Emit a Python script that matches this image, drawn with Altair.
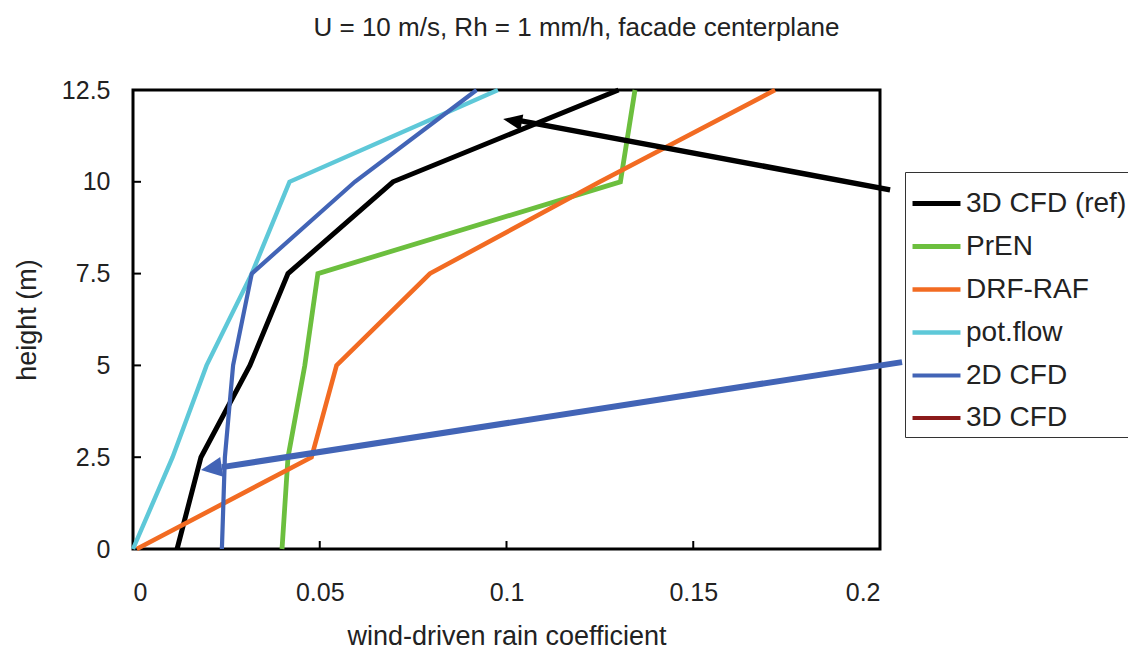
import math
import altair as alt
import pandas as pd

# Wind-driven rain coefficient profiles along the facade centerplane
heights = [0, 2.5, 5, 7.5, 10, 12.5]
cfd3d_ref = [0.0118, 0.0182, 0.0313, 0.0415, 0.0696, 0.1300]
pren = [0.0399, 0.0415, 0.0460, 0.0495, 0.1305, 0.1344]
drf_raf = [0.0010, 0.0478, 0.0545, 0.0795, 0.1250, 0.1719]
pot_flow = [0.0000, 0.0106, 0.0197, 0.0318, 0.0419, 0.0977]
cfd2d = [0.0238, 0.0246, 0.0268, 0.0318, 0.0594, 0.0920]

series_names = ["3D CFD (ref)", "PrEN", "DRF-RAF", "pot.flow", "2D CFD", "3D CFD"]
series_colors = ["#000000", "#6cbf3e", "#f26b22", "#5ec8d8", "#4264b6", "#8b1a1a"]
series_widths = [5, 4, 4, 4, 4, 2]

x_ticks = [0, 0.05, 0.1, 0.15, 0.2]
y_ticks = [0, 2.5, 5, 7.5, 10, 12.5]

# Annotation arrows: tail, end of shaft, tip (coefficient, height)
arrow_black = [(0.2027, 9.78), (0.1039, 11.66), (0.0991, 11.71)]
arrow_blue = [(0.2059, 5.09), (0.0238, 2.23), (0.0182, 2.15)]

W, H = 747, 459
X_MAX, Y_MAX = 0.2, 12.5

rows = []
for name, vals in zip(series_names[:5], [cfd3d_ref, pren, drf_raf, pot_flow, cfd2d]):
    for h, v in zip(heights, vals):
        rows.append({"series": name, "coef": v, "height": h})
df = pd.DataFrame(rows)

x_scale = alt.Scale(domain=[0, X_MAX], nice=False, zero=True)
y_scale = alt.Scale(domain=[0, Y_MAX], nice=False)

x_axis = alt.Axis(values=x_ticks, format=".4~g", title="wind-driven rain coefficient",
                  tickSize=0, domain=False, grid=False, labelPadding=31,
                  titleY=95, titleBaseline="alphabetic", titleX=W / 2)
y_axis = alt.Axis(values=y_ticks, format=".4~g", title="height (m)",
                  tickSize=0, domain=False, grid=False, labelPadding=23,
                  titleAngle=270, titleX=-106, titleY=H / 2,
                  titleBaseline="middle", titleAlign="center")

legend = alt.Legend(
    title=None, orient="none", legendX=772, legendY=82,
    symbolType="stroke", symbolSize=2300,
    labelFontSize=28, labelFont="Liberation Sans", labelColor="#222222",
    labelOffset=3, labelLimit=400, rowPadding=2, padding=5,
    strokeColor="#333333", fillColor="white",
)

lines = alt.Chart(df).mark_line(clip=False, strokeCap="butt", strokeJoin="miter").encode(
    x=alt.X("coef:Q", scale=x_scale, axis=x_axis),
    y=alt.Y("height:Q", scale=y_scale, axis=y_axis),
    color=alt.Color("series:N", scale=alt.Scale(domain=series_names, range=series_colors),
                    legend=legend),
    strokeWidth=alt.StrokeWidth("series:N",
                                scale=alt.Scale(domain=series_names, range=series_widths),
                                legend=legend),
    order=alt.Order("height:Q"),
)

x_tick_df = pd.DataFrame({"coef": x_ticks[1:-1]})
y_tick_df = pd.DataFrame({"height": y_ticks[1:-1]})
x_tick_marks = alt.Chart(x_tick_df).mark_rule(color="#000", strokeWidth=2).encode(
    x=alt.X("coef:Q", scale=x_scale, axis=x_axis), y=alt.value(H), y2=alt.value(H - 8))
y_tick_marks = alt.Chart(y_tick_df).mark_rule(color="#000", strokeWidth=2).encode(
    y=alt.Y("height:Q", scale=y_scale, axis=y_axis), x=alt.value(0), x2=alt.value(8))


def arrow_layers(points, color, width, head_path):
    (tx, ty), (bx, by), (px, py) = points
    shaft = pd.DataFrame({"coef": [tx, bx], "height": [ty, by], "k": [0, 1]})
    sx = W / X_MAX
    sy = H / Y_MAX
    dx = (px - tx) * sx
    dy = -(py - ty) * sy
    ang = math.degrees(math.atan2(-dy, -dx)) % 360
    line = alt.Chart(shaft).mark_line(color=color, strokeWidth=width, clip=False,
                                      strokeCap="butt").encode(
        x=alt.X("coef:Q", scale=x_scale, axis=x_axis),
        y=alt.Y("height:Q", scale=y_scale, axis=y_axis),
        order="k:Q")
    head = alt.Chart(pd.DataFrame({"coef": [px], "height": [py]})).mark_point(
        shape=head_path, filled=True, fill=color, color=color, opacity=1,
        size=400, angle=ang, strokeWidth=0, clip=False).encode(
        x=alt.X("coef:Q", scale=x_scale, axis=x_axis),
        y=alt.Y("height:Q", scale=y_scale, axis=y_axis))
    return [line, head]


layers = [lines, x_tick_marks, y_tick_marks]
layers += arrow_layers(arrow_black, "#000000", 5.5, "M0,0L1.9,-0.8L1.9,0.8Z")
layers += arrow_layers(arrow_blue, "#4264b6", 6, "M0,0L2.1,-1L2.1,1Z")

chart = alt.layer(*layers).properties(
    width=W, height=H,
    background="white",
    title=alt.TitleParams("U = 10 m/s, Rh = 1 mm/h, facade centerplane",
                          fontSize=26, fontWeight="normal", font="Liberation Sans",
                          color="#222222", anchor="middle", frame="group",
                          dx=70, offset=16, baseline="alphabetic"),
    autosize=alt.AutoSizeParams(type="none"),
    padding={"left": 133, "top": 90, "right": 248, "bottom": 104},
).configure_view(
    stroke="#000000", strokeWidth=3
).configure_axis(
    labelFont="Liberation Sans", labelFontSize=25, labelColor="#222222",
    titleFont="Liberation Sans", titleFontSize=27, titleFontWeight="normal",
    titleColor="#222222",
)

chart.save("out.html", embed_options={"renderer": "svg", "actions": False})
